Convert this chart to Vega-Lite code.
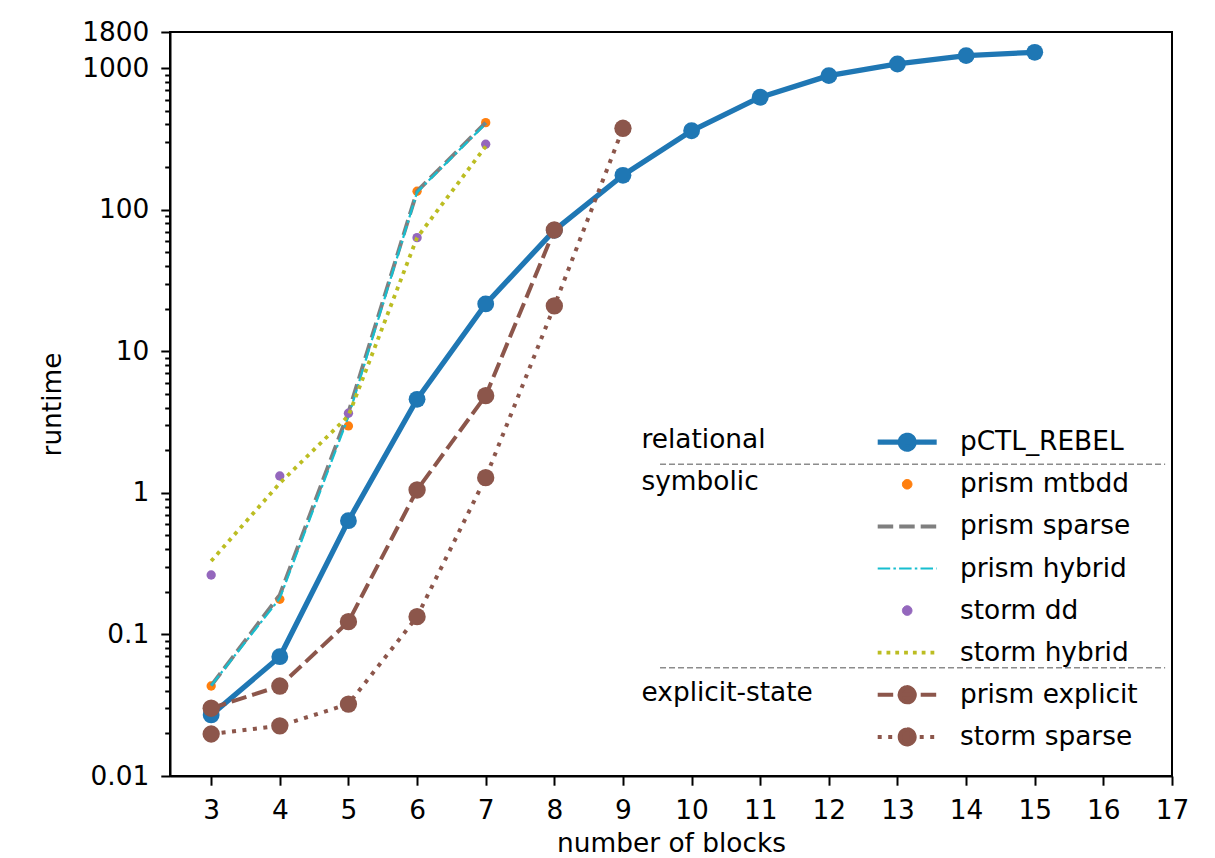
{
  "$schema": "https://vega.github.io/schema/vega-lite/v6.json",
  "autosize": "none",
  "width": 1002,
  "height": 744,
  "padding": {"left": 170, "top": 32, "right": 43, "bottom": 82},
  "background": "white",
  "config": {
    "font": "DejaVu Sans",
    "view": {"stroke": "black", "strokeWidth": 2},
    "axis": {
      "grid": false,
      "domainColor": "black",
      "domainWidth": 2,
      "tickColor": "black",
      "tickWidth": 2,
      "labelFont": "DejaVu Sans",
      "labelFontSize": 26.4,
      "labelColor": "black",
      "titleFont": "DejaVu Sans",
      "titleFontSize": 26.4,
      "titleFontWeight": "normal",
      "titleColor": "black"
    }
  },
  "datasets": {
    "runtime": [
      {"series": "pCTL_REBEL", "blocks": 3, "runtime": 0.027},
      {"series": "pCTL_REBEL", "blocks": 4, "runtime": 0.0696},
      {"series": "pCTL_REBEL", "blocks": 5, "runtime": 0.636},
      {"series": "pCTL_REBEL", "blocks": 6, "runtime": 4.58},
      {"series": "pCTL_REBEL", "blocks": 7, "runtime": 21.6},
      {"series": "pCTL_REBEL", "blocks": 8, "runtime": 71.5},
      {"series": "pCTL_REBEL", "blocks": 9, "runtime": 175},
      {"series": "pCTL_REBEL", "blocks": 10, "runtime": 361},
      {"series": "pCTL_REBEL", "blocks": 11, "runtime": 623},
      {"series": "pCTL_REBEL", "blocks": 12, "runtime": 885},
      {"series": "pCTL_REBEL", "blocks": 13, "runtime": 1070},
      {"series": "pCTL_REBEL", "blocks": 14, "runtime": 1225},
      {"series": "pCTL_REBEL", "blocks": 15, "runtime": 1294},
      {"series": "prism mtbdd", "blocks": 3, "runtime": 0.0432},
      {"series": "prism mtbdd", "blocks": 4, "runtime": 0.177},
      {"series": "prism mtbdd", "blocks": 5, "runtime": 2.97},
      {"series": "prism mtbdd", "blocks": 6, "runtime": 135},
      {"series": "prism mtbdd", "blocks": 7, "runtime": 412},
      {"series": "prism sparse", "blocks": 3, "runtime": 0.0435},
      {"series": "prism sparse", "blocks": 4, "runtime": 0.19},
      {"series": "prism sparse", "blocks": 5, "runtime": 3.7},
      {"series": "prism sparse", "blocks": 6, "runtime": 135},
      {"series": "prism sparse", "blocks": 7, "runtime": 412},
      {"series": "prism hybrid", "blocks": 3, "runtime": 0.0435},
      {"series": "prism hybrid", "blocks": 4, "runtime": 0.18},
      {"series": "prism hybrid", "blocks": 5, "runtime": 3.45},
      {"series": "prism hybrid", "blocks": 6, "runtime": 133},
      {"series": "prism hybrid", "blocks": 7, "runtime": 405},
      {"series": "storm dd", "blocks": 3, "runtime": 0.263},
      {"series": "storm dd", "blocks": 4, "runtime": 1.315},
      {"series": "storm dd", "blocks": 5, "runtime": 3.65},
      {"series": "storm dd", "blocks": 6, "runtime": 63.5},
      {"series": "storm dd", "blocks": 7, "runtime": 290},
      {"series": "storm hybrid", "blocks": 3, "runtime": 0.33},
      {"series": "storm hybrid", "blocks": 4, "runtime": 1.17},
      {"series": "storm hybrid", "blocks": 5, "runtime": 3.5},
      {"series": "storm hybrid", "blocks": 6, "runtime": 63.5},
      {"series": "storm hybrid", "blocks": 7, "runtime": 280},
      {"series": "prism explicit", "blocks": 3, "runtime": 0.0301},
      {"series": "prism explicit", "blocks": 4, "runtime": 0.0432},
      {"series": "prism explicit", "blocks": 5, "runtime": 0.123},
      {"series": "prism explicit", "blocks": 6, "runtime": 1.048},
      {"series": "prism explicit", "blocks": 7, "runtime": 4.86},
      {"series": "prism explicit", "blocks": 8, "runtime": 71.9},
      {"series": "storm sparse", "blocks": 3, "runtime": 0.0198},
      {"series": "storm sparse", "blocks": 4, "runtime": 0.0226},
      {"series": "storm sparse", "blocks": 5, "runtime": 0.0322},
      {"series": "storm sparse", "blocks": 6, "runtime": 0.1335},
      {"series": "storm sparse", "blocks": 7, "runtime": 1.28},
      {"series": "storm sparse", "blocks": 8, "runtime": 20.9},
      {"series": "storm sparse", "blocks": 9, "runtime": 376}
    ],
    "groupLabels": [
      {"group": "relational", "blocks": 9.27, "runtime": 2.362},
      {"group": "symbolic", "blocks": 9.27, "runtime": 1.189},
      {"group": "explicit-state", "blocks": 9.27, "runtime": 0.0383}
    ],
    "separators": [
      {"blocks": 9.54, "blocks_end": 16.9, "runtime": 1.591},
      {"blocks": 9.54, "blocks_end": 16.9, "runtime": 0.0582}
    ]
  },
  "layer": [
    {
      "data": {"name": "runtime"},
      "encoding": {
        "x": {
          "field": "blocks",
          "type": "quantitative",
          "scale": {"domain": [2.4, 17], "nice": false, "zero": false},
          "axis": {
            "values": [3, 4, 5, 6, 7, 8, 9, 10, 11, 12, 13, 14, 15, 16, 17],
            "format": "d",
            "title": "number of blocks",
            "tickSize": 9.2,
            "labelPadding": 12,
            "titlePadding": 7,
            "labelFlush": false,
            "labelOverlap": false
          }
        },
        "y": {
          "field": "runtime",
          "type": "quantitative",
          "scale": {"type": "log", "domain": [0.01, 1800], "nice": false},
          "axis": {
            "values": [0.01, 0.02, 0.03, 0.04, 0.05, 0.06, 0.07, 0.08, 0.09, 0.1, 0.2, 0.3, 0.4, 0.5, 0.6, 0.7, 0.8, 0.9, 1, 2, 3, 4, 5, 6, 7, 8, 9, 10, 20, 30, 40, 50, 60, 70, 80, 90, 100, 200, 300, 400, 500, 600, 700, 800, 900, 1000, 1800],
            "labelExpr": "indexof([0.01, 0.1, 1, 10, 100, 1000, 1800], datum.value) >= 0 ? toString(datum.value) : ''",
            "tickSize": {"condition": {"test": "indexof([0.01, 0.1, 1, 10, 100, 1000, 1800], datum.value) >= 0", "value": 9.2}, "value": 5.3},
            "title": "runtime",
            "labelPadding": 12,
            "titlePadding": 15,
            "labelFlush": false,
            "labelOverlap": false
          }
        },
        "color": {
          "field": "series",
          "type": "nominal",
          "scale": {
            "domain": ["pCTL_REBEL", "prism mtbdd", "prism sparse", "prism hybrid", "storm dd", "storm hybrid", "prism explicit", "storm sparse"],
            "range": ["#1f77b4", "#ff7f0e", "#7f7f7f", "#17becf", "#9467bd", "#bcbd22", "#8c564b", "#8c564b"]
          },
          "legend": {
            "orient": "none",
            "legendX": 724,
            "legendY": 397,
            "title": null,
            "padding": 0,
            "rowPadding": 15.1,
            "symbolOffset": 0,
            "labelOffset": 39.5,
            "symbolSize": 3481,
            "symbolStrokeWidth": 4,
            "labelFont": "DejaVu Sans",
            "labelFontSize": 26.4,
            "labelColor": "black",
            "labelLimit": 400,
            "encode": {
              "symbols": {
                "update": {
                  "shape": {"signal": "['M-1,0H1M0.232,0A0.232,0.232,0,1,1,-0.232,0A0.232,0.232,0,1,1,0.232,0Z', 'M0.163,0A0.163,0.163,0,1,1,-0.163,0A0.163,0.163,0,1,1,0.163,0Z', 'M-1,0H1', 'M-1,0H1', 'M0.163,0A0.163,0.163,0,1,1,-0.163,0A0.163,0.163,0,1,1,0.163,0Z', 'M-1,0H1', 'M-1,0H1M0.2542,0A0.2542,0.2542,0,1,1,-0.2542,0A0.2542,0.2542,0,1,1,0.2542,0ZM0.0598,0.2471A0.2542,0.2542,0,1,1,-0.0598,-0.2471A0.2542,0.2542,0,1,1,0.0598,0.2471ZM0.2215,-0.1247A0.2542,0.2542,0,1,1,-0.2215,0.1247A0.2542,0.2542,0,1,1,0.2215,-0.1247Z', 'M-1,0H1M0.2542,0A0.2542,0.2542,0,1,1,-0.2542,0A0.2542,0.2542,0,1,1,0.2542,0ZM0.227,0.1144A0.2542,0.2542,0,1,1,-0.227,-0.1144A0.2542,0.2542,0,1,1,0.227,0.1144ZM0.1511,0.2044A0.2542,0.2542,0,1,1,-0.1511,-0.2044A0.2542,0.2542,0,1,1,0.1511,0.2044Z'][indexof(['pCTL_REBEL', 'prism mtbdd', 'prism sparse', 'prism hybrid', 'storm dd', 'storm hybrid', 'prism explicit', 'storm sparse'], datum.value)]"},
                  "fill": {"scale": "color", "field": "value"},
                  "stroke": {"scale": "color", "field": "value"},
                  "strokeCap": {"value": "butt"},
                  "strokeJoin": {"value": "round"},
                  "strokeDash": {"signal": "[[1,0],[1,0],[15.5,6],[12.5,3.2,2.5,3.2],[1,0],[3.8,5],[15.5,6],[4,6.5]][indexof(['pCTL_REBEL', 'prism mtbdd', 'prism sparse', 'prism hybrid', 'storm dd', 'storm hybrid', 'prism explicit', 'storm sparse'], datum.value)]"},
                  "strokeWidth": {"signal": "[5.3,1,4,2.2,1,3.8,4,4][indexof(['pCTL_REBEL', 'prism mtbdd', 'prism sparse', 'prism hybrid', 'storm dd', 'storm hybrid', 'prism explicit', 'storm sparse'], datum.value)] || 4"},
                  "opacity": {"value": 1},
                  "size": {"value": 3481}
                }
              }
            }
          }
        }
      },
      "layer": [
        {"transform": [{"filter": "datum.series === 'pCTL_REBEL'"}], "mark": {"type": "line", "strokeWidth": 5.3, "strokeJoin": "round"}},
        {"transform": [{"filter": "datum.series === 'pCTL_REBEL'"}], "mark": {"type": "point", "shape": "circle", "filled": true, "opacity": 1, "size": 283}},
        {"transform": [{"filter": "datum.series === 'prism mtbdd'"}], "mark": {"type": "point", "shape": "circle", "filled": true, "opacity": 1, "size": 87}},
        {"transform": [{"filter": "datum.series === 'prism sparse'"}], "mark": {"type": "line", "strokeWidth": 4, "strokeDash": [15.5, 6]}},
        {"transform": [{"filter": "datum.series === 'prism hybrid'"}], "mark": {"type": "line", "strokeWidth": 2.2, "strokeDash": [12.5, 3.2, 2.5, 3.2]}},
        {"transform": [{"filter": "datum.series === 'storm dd'"}], "mark": {"type": "point", "shape": "circle", "filled": true, "opacity": 1, "size": 87}},
        {"transform": [{"filter": "datum.series === 'storm hybrid'"}], "mark": {"type": "line", "strokeWidth": 3.8, "strokeDash": [3.8, 5]}},
        {"transform": [{"filter": "datum.series === 'prism explicit'"}], "mark": {"type": "line", "strokeWidth": 4, "strokeDash": [15.5, 6]}},
        {"transform": [{"filter": "datum.series === 'prism explicit'"}], "mark": {"type": "point", "shape": "circle", "filled": true, "opacity": 1, "size": 300}},
        {"transform": [{"filter": "datum.series === 'storm sparse'"}], "mark": {"type": "line", "strokeWidth": 4, "strokeDash": [4, 6.5]}},
        {"transform": [{"filter": "datum.series === 'storm sparse'"}], "mark": {"type": "point", "shape": "circle", "filled": true, "opacity": 1, "size": 300}}
      ]
    },
    {
      "data": {"name": "separators"},
      "mark": {"type": "rule", "color": "#8c8c8c", "strokeWidth": 1.5, "strokeDash": [6, 3]},
      "encoding": {
        "x": {"field": "blocks", "type": "quantitative"},
        "x2": {"field": "blocks_end"},
        "y": {"field": "runtime", "type": "quantitative"}
      }
    },
    {
      "data": {"name": "groupLabels"},
      "mark": {"type": "text", "align": "left", "baseline": "middle", "font": "DejaVu Sans", "fontSize": 26.4, "color": "black"},
      "encoding": {
        "x": {"field": "blocks", "type": "quantitative"},
        "y": {"field": "runtime", "type": "quantitative"},
        "text": {"field": "group"}
      }
    }
  ]
}
